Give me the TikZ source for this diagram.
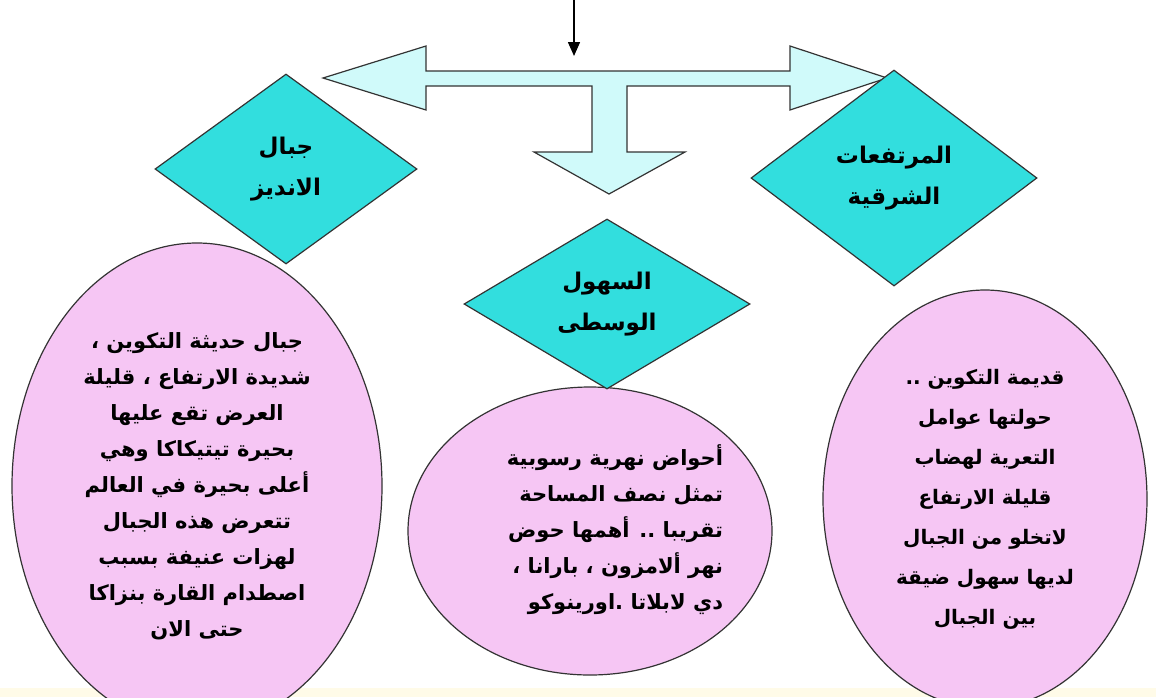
\documentclass[tikz,border=0pt]{standalone}
\usepackage{fontspec}
\usetikzlibrary{shapes.geometric,positioning,arrows.meta}
\TeXXeTstate=1
\newfontfamily\arabicfont[Script=Arabic]{DejaVu Sans}
\newcommand{\artxt}[1]{\beginR #1\endR}
\definecolor{kcyan}{RGB}{50,222,222}
\definecolor{kpale}{RGB}{208,250,250}
\definecolor{kpink}{RGB}{246,198,244}
\definecolor{kband}{RGB}{255,251,232}

\begin{document}
\begin{tikzpicture}[x=1pt,y=-1pt,
    region/.style={diamond,draw=black!80,fill=kcyan,line width=1.2pt,inner sep=0pt,
      font=\arabicfont\bfseries\fontsize{23}{41}\selectfont,align=center},
    info/.style={ellipse,draw=black!80,fill=kpink,line width=1.2pt,inner sep=0pt,
      font=\arabicfont\bfseries\fontsize{21}{36}\selectfont,align=center}]
   \useasboundingbox (0,0) rectangle (1156,697);
   \fill[kband] (0,688) rectangle (1156,697);

   % block arrow
   \draw[fill=kpale,draw=black!80,line width=1.2pt]
     (323,78) -- (426,46) -- (426,71) -- (790,71) -- (790,46) -- (887,78)
     -- (790,110) -- (790,86) -- (627,86) -- (627,152) -- (685,152)
     -- (609,194) -- (534,152) -- (592,152) -- (592,86) -- (426,86)
     -- (426,110) -- cycle;
   \coordinate (src) at (574,0);
   \coordinate (bar) at (574,56);
   \draw[-{Triangle[length=14pt,width=12pt]},line width=1.5pt] (src) -- (bar);

   % ellipses
   \node[info,minimum width=370pt,minimum height=486pt] (e_1) at (197,486)
     {\artxt{جبال حديثة التكوين ،}\\ \artxt{شديدة الارتفاع  ، قليلة}\\
      \artxt{العرض  تقع عليها}\\ \artxt{بحيرة تيتيكاكا وهي}\\
      \artxt{أعلى بحيرة في العالم}\\ \artxt{تتعرض هذه الجبال}\\
      \artxt{لهزات عنيفة بسبب}\\ \artxt{اصطدام القارة بنزاكا}\\
      \artxt{حتى الان}};
   \node[info,minimum width=364pt,minimum height=288pt] (e_2) at (590,531) {};
   \node[info,draw=none,fill=none,align=right] (t_2) at (615,530)
     {\artxt{أحواض نهرية رسوبية}\\ \artxt{تمثل نصف المساحة}\\
      \artxt{تقريبا .. أهمها حوض}\\ \artxt{نهر ألامزون ، بارانا ،}\\
      \artxt{دي لابلاتا .اورينوكو}};
   \node[info,minimum width=324pt,minimum height=418pt,
     font=\arabicfont\bfseries\fontsize{20}{40}\selectfont] (e_3) at (985,499)
     {\artxt{قديمة التكوين ..}\\ \artxt{حولتها عوامل}\\
      \artxt{التعرية لهضاب}\\ \artxt{قليلة الارتفاع}\\
      \artxt{لاتخلو من الجبال}\\ \artxt{لديها سهول ضيقة}\\
      \artxt{بين الجبال}};

   % diamonds
   \node[region,minimum width=262pt,minimum height=190pt] (d_1) at (286,169)
     {\artxt{جبال}\\ \artxt{الانديز}};
   \node[region,minimum width=286pt,minimum height=170pt] (d_2) at (607,304)
     {\artxt{السهول}\\ \artxt{الوسطى}};
   \node[region,minimum width=286pt,minimum height=216pt] (d_3) at (894,178)
     {\artxt{المرتفعات}\\ \artxt{الشرقية}};
\end{tikzpicture}
\end{document}
